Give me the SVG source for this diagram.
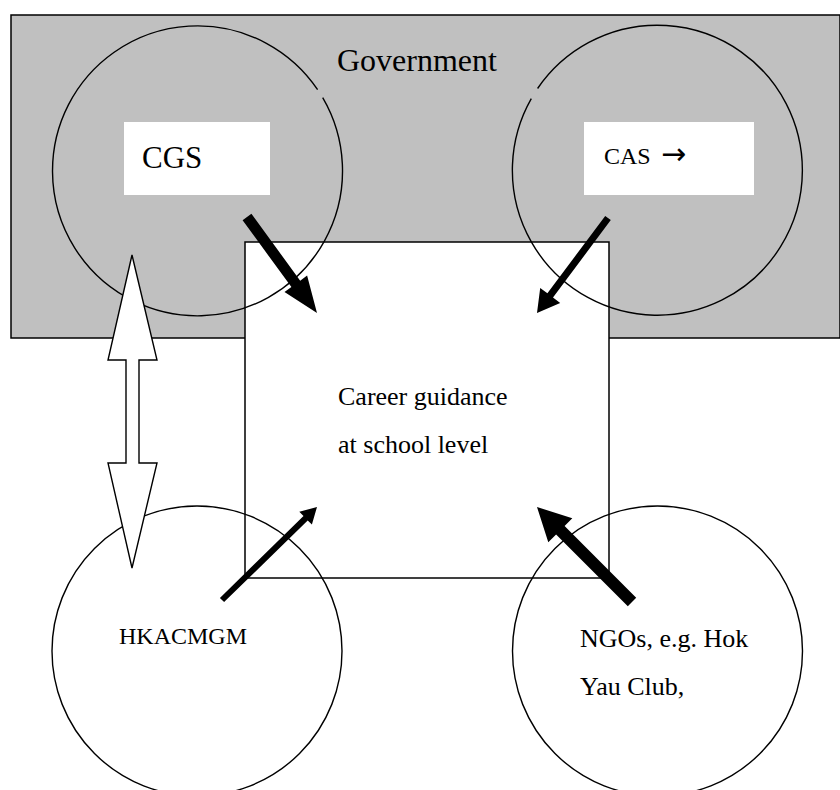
<svg xmlns="http://www.w3.org/2000/svg" width="840" height="790" viewBox="0 0 840 790">
<style>
.t{font-family:"Liberation Serif","Times New Roman",serif;fill:#000}
.ring{fill:none;stroke:#000;stroke-width:1.4}
.box{stroke:#000;stroke-width:1.5}
.solid{fill:#000;stroke:none}
.hollow{fill:#fff;stroke:#000;stroke-width:1.4;stroke-linejoin:miter}
</style>
<rect width="840" height="790" fill="#fff"/>
<g id="government">
<rect class="box" x="11" y="15" width="829" height="323" fill="#c0c0c0"/>
<text class="t" x="337" y="71" font-size="32">Government</text>
</g>
<g id="school">
<rect class="box" x="245" y="242" width="364" height="336" fill="#fff"/>
<text class="t" x="338" y="405" font-size="26">Career guidance</text>
<text class="t" x="338" y="453" font-size="26">at school level</text>
</g>
<g id="cgs">
<path class="ring" d="M322.7,97.7 A145,145 0 1 1 317.6,89.6"/>
<rect x="124" y="122" width="146" height="73" fill="#fff"/>
<text class="t" x="142" y="168" font-size="31">CGS</text>
</g>
<g id="cas">
<path class="ring" d="M537.6,88.5 A145,145 0 1 1 531.3,98.6"/>
<rect x="584" y="122" width="170" height="73" fill="#fff"/>
<text class="t" x="604" y="164" font-size="24">CAS <tspan x="661" font-family="'DejaVu Sans',sans-serif" font-size="30">→</tspan></text>
</g>
<g id="hkacmgm">
<circle class="ring" cx="197" cy="651" r="145"/>
<text class="t" x="119" y="644" font-size="24">HKACMGM</text>
</g>
<g id="ngos">
<circle class="ring" cx="657.5" cy="651" r="145"/>
<text class="t" x="580" y="647" font-size="26">NGOs, e.g. Hok</text>
<text class="t" x="580" y="695" font-size="26">Yau Club,</text>
</g>
<g id="connectors">
<polygon class="hollow" points="132,255 157,360 139,360 139,463 157,463 132,568 108,463 126,463 126,360 108,360"/>
<polygon class="solid" points="242.6,220.2 291.4,287.1 284.5,292.1 317,313 307.1,275.6 300.2,280.7 251.4,213.8"/>
<polygon class="solid" points="605.2,215.9 547.4,293.3 540.2,287.9 537,313 560.2,302.9 553,297.5 610.8,220.1"/>
<polygon class="solid" points="224.1,602.1 307.7,520.4 311.9,524.6 317,507 299.3,511.8 303.5,516 219.9,597.9"/>
<polygon class="solid" points="636.2,597.8 564.6,526.1 572.3,518.3 537,507 548.3,542.3 556.1,534.6 627.8,606.2"/>
</g>
</svg>
